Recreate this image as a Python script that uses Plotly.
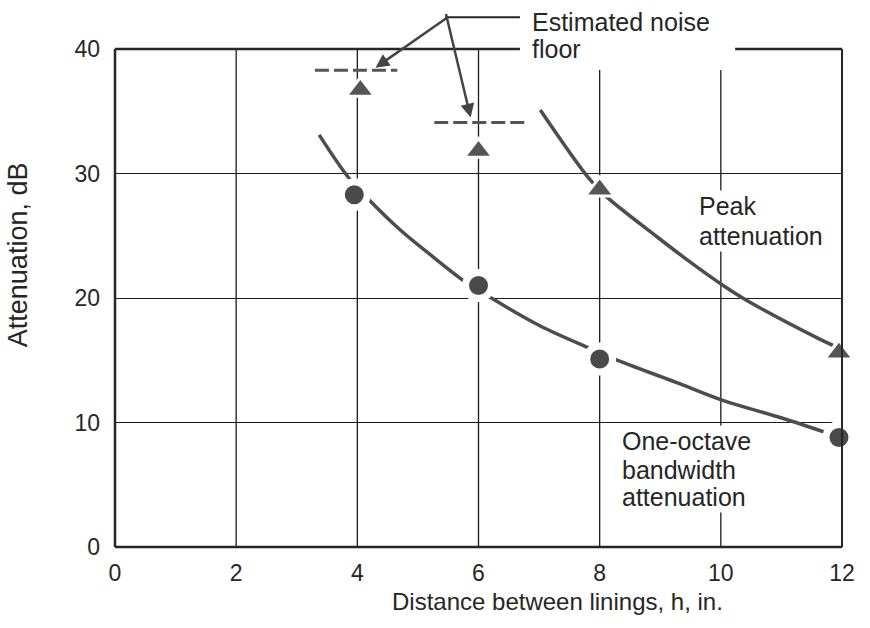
import plotly.graph_objects as go

# ---- data ----
octave_x = [3.95, 6.0, 8.0, 11.95]
octave_y = [28.3, 21.0, 15.1, 8.8]

peak_x = [4.05, 6.0, 8.0, 11.95]
peak_y = [36.7, 31.8, 28.7, 15.6]

octave_curve_x = [3.37, 3.85, 4.18, 4.70, 5.25, 5.78, 6.14, 7.02, 7.84, 8.25, 9.0, 9.33, 10.02, 10.98, 11.85]
octave_curve_y = [33.1, 29.7, 27.95, 25.5, 23.3, 21.3, 20.2, 17.75, 15.95, 15.1, 13.7, 13.1, 11.8, 10.4, 9.0]

peak_curve_x = [7.02, 7.84, 8.12, 8.95, 9.49, 10.04, 10.43, 11.59, 11.85]
peak_curve_y = [35.1, 29.5, 28.1, 24.9, 22.9, 21.0, 19.8, 16.8, 16.2]

noise_x_start = [3.30, 5.27]
noise_x_end = [4.66, 6.81]
noise_y = [38.3, 34.1]

x_ticks = [0, 2, 4, 6, 8, 10, 12]
y_ticks = [0, 10, 20, 30, 40]

INK = "#262626"
CURVE = "#4d4d4d"
FONT = "Liberation Sans"

fig = go.Figure()

# curves
fig.add_trace(go.Scatter(x=octave_curve_x, y=octave_curve_y, mode="lines",
                         line=dict(color=CURVE, width=3.5, shape="spline"),
                         hoverinfo="skip", showlegend=False))
fig.add_trace(go.Scatter(x=peak_curve_x, y=peak_curve_y, mode="lines",
                         line=dict(color=CURVE, width=3.5, shape="spline"),
                         hoverinfo="skip", showlegend=False))

# noise floor dashes
nx, ny = [], []
for a, b, yv in zip(noise_x_start, noise_x_end, noise_y):
    nx += [a, b, None]
    ny += [yv, yv, None]
fig.add_trace(go.Scatter(x=nx, y=ny, mode="lines",
                         line=dict(color="#555555", width=3, dash="14px,5px"),
                         hoverinfo="skip", showlegend=False))

# markers
fig.add_trace(go.Scatter(x=octave_x, y=octave_y, mode="markers",
                         marker=dict(symbol="circle", size=26, color="#4a4a4a",
                                     line=dict(color="white", width=7)),
                         showlegend=False, cliponaxis=False))
fig.add_trace(go.Scatter(x=peak_x, y=peak_y, mode="markers",
                         marker=dict(symbol="triangle-up", size=25, color="#555555",
                                     line=dict(color="white", width=3)),
                         showlegend=False, cliponaxis=False))

shapes = []
# vertical grid lines
for xv in [2, 4, 6]:
    shapes.append(dict(type="line", xref="x", yref="paper", x0=xv, x1=xv, y0=0, y1=1,
                       line=dict(color="#1a1a1a", width=1.3), layer="below"))
for xv in [8, 10]:
    shapes.append(dict(type="line", xref="x", yref="paper", x0=xv, x1=xv, y0=0, y1=0.958,
                       line=dict(color="#1a1a1a", width=1.3), layer="below"))
# frame
bw = 2.5
shapes += [
    dict(type="line", xref="paper", yref="paper", x0=0, x1=0, y0=0, y1=1, line=dict(color=INK, width=bw)),
    dict(type="line", xref="paper", yref="paper", x0=0, x1=1, y0=0, y1=0, line=dict(color=INK, width=bw)),
    dict(type="line", xref="paper", yref="paper", x0=1, x1=1, y0=0, y1=1, line=dict(color=INK, width=bw - 0.5)),
    dict(type="line", xref="paper", yref="paper", x0=0, x1=0.557, y0=1, y1=1, line=dict(color=INK, width=bw)),
    dict(type="line", xref="paper", yref="paper", x0=0.853, x1=1, y0=1, y1=1, line=dict(color=INK, width=bw)),
    # leader line to "Estimated noise"
    dict(type="line", xref="paper", yref="paper", x0=0.454, x1=0.557, y0=1.064, y1=1.064,
         line=dict(color=INK, width=2)),
]

ann_font = dict(family=FONT, size=25, color=INK)
annotations = [
    dict(text="Estimated noise", xref="paper", yref="paper", x=0.571, y=1.054,
         xanchor="left", yanchor="middle", showarrow=False, font=ann_font),
    dict(text="floor", xref="paper", yref="paper", x=0.571, y=1.0,
         xanchor="left", yanchor="middle", showarrow=False, font=ann_font, bgcolor="white"),
    dict(text="Peak", xref="x", yref="y", x=9.61, y=27.4, xanchor="left", yanchor="middle",
         showarrow=False, font=ann_font, bgcolor="white"),
    dict(text="attenuation", xref="x", yref="y", x=9.61, y=25.0, xanchor="left", yanchor="middle",
         showarrow=False, font=ann_font, bgcolor="white"),
    dict(text="One-octave", xref="x", yref="y", x=8.34, y=8.5, xanchor="left", yanchor="middle",
         showarrow=False, font=ann_font, bgcolor="white"),
    dict(text="bandwidth", xref="x", yref="y", x=8.34, y=6.2, xanchor="left", yanchor="middle",
         showarrow=False, font=ann_font, bgcolor="white"),
    dict(text="attenuation", xref="x", yref="y", x=8.34, y=4.0, xanchor="left", yanchor="middle",
         showarrow=False, font=ann_font, bgcolor="white"),
    # axis titles
    dict(text="Distance between linings, h, in.", xref="paper", yref="paper", x=0.608, y=-0.110,
         xanchor="center", yanchor="middle", showarrow=False,
         font=dict(family=FONT, size=24, color=INK)),
    dict(text="Attenuation, dB", xref="paper", yref="paper", x=-0.1334, y=0.586, textangle=-90,
         xanchor="center", yanchor="middle", showarrow=False,
         font=dict(family=FONT, size=27, color=INK)),
    # arrows from the leader line to the noise-floor dashes
    dict(text="", xref="x", yref="y", x=4.3, y=38.5, ax=73, ay=-51, axref="pixel", ayref="pixel",
         showarrow=True, arrowhead=2, arrowsize=1.1, arrowwidth=2.5, arrowcolor="#444444"),
    dict(text="", xref="x", yref="y", x=5.87, y=34.5, ax=-25, ay=-105, axref="pixel", ayref="pixel",
         showarrow=True, arrowhead=2, arrowsize=1.1, arrowwidth=2.5, arrowcolor="#444444"),
]

fig.update_layout(
    width=870, height=628,
    margin=dict(l=115, r=28, t=49, b=81),
    paper_bgcolor="white", plot_bgcolor="white",
    shapes=shapes, annotations=annotations,
    font=dict(family=FONT, color=INK),
)
fig.update_xaxes(range=[0, 12], tickvals=x_ticks, ticktext=[str(v) for v in x_ticks],
                 showgrid=False, zeroline=False, showline=False,
                 tickfont=dict(family=FONT, size=23, color=INK), ticklabelstandoff=10)
fig.update_yaxes(range=[0, 40], tickvals=y_ticks, ticktext=[str(v) for v in y_ticks],
                 showgrid=True, gridcolor="#1a1a1a", gridwidth=1.3, zeroline=False, showline=False,
                 tickfont=dict(family=FONT, size=23, color=INK), ticklabelstandoff=14)

fig.write_html("out.html")
